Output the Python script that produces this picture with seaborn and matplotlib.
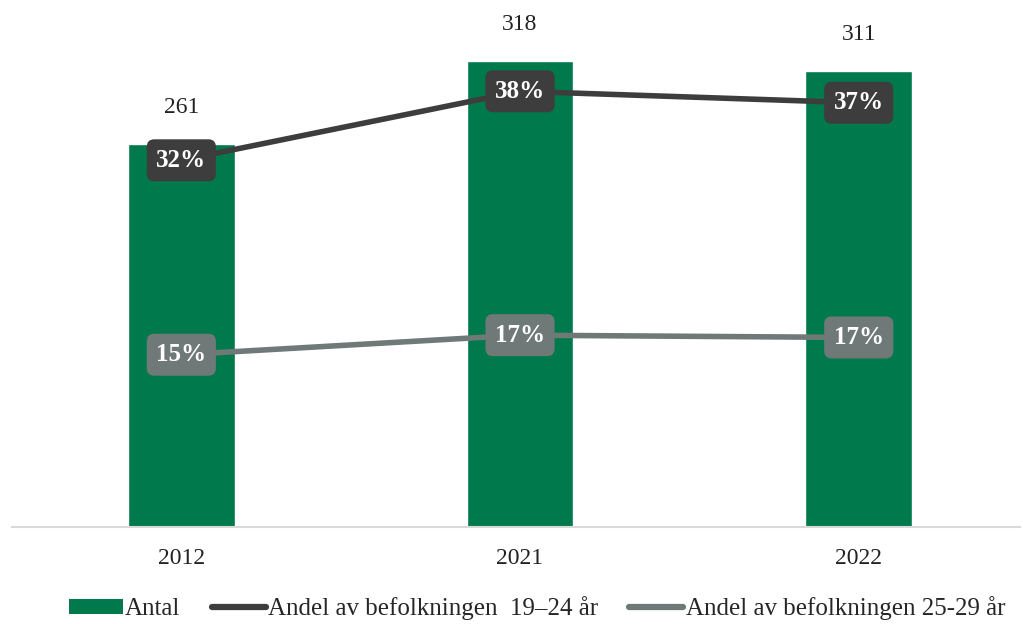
import matplotlib
matplotlib.use("Agg")
import matplotlib.pyplot as plt
import seaborn as sns
import pandas as pd
from matplotlib.patches import Patch
from matplotlib.lines import Line2D

years = ["2012", "2021", "2022"]
antal = [261, 318, 311]
andel_19_24 = [0.319, 0.379, 0.369]
andel_25_29 = [0.150, 0.167, 0.165]
labels_19_24 = ["32%", "38%", "37%"]
labels_25_29 = ["15%", "17%", "17%"]

green = "#007A4D"
dark = "#3D3D3D"
gray = "#6F7977"

sns.set_theme(style="white")
plt.rcParams["font.family"] = ["Liberation Serif", "DejaVu Serif"]

fig = plt.figure(figsize=(10.23, 6.24), dpi=100)
ax = fig.add_axes([0.0117, 0.155, 0.985, 0.837])

df = pd.DataFrame({"year": years, "antal": antal})
sns.barplot(data=df, x="year", y="antal", color=green, width=0.315, ax=ax, saturation=1)
ax.set_xlim(-0.5, 2.475)
ax.set_ylim(0, 356)
for i, v in enumerate(antal):
    ax.text(i, v + 25, str(v), ha="center", va="center", fontsize=17, color="#222222")

ax2 = ax.twinx()
ax2.set_ylim(0, 0.454)
xs = list(range(len(years)))
sns.lineplot(x=xs, y=andel_19_24, ax=ax2, color=dark, lw=4)
sns.lineplot(x=xs, y=andel_25_29, ax=ax2, color=gray, lw=4)
for i in xs:
    ax2.text(i, andel_19_24[i], labels_19_24[i], ha="center", va="center", fontsize=18,
             fontweight="bold", color="white",
             bbox=dict(boxstyle="round,pad=0.38,rounding_size=0.3", fc=dark, ec="none"))
    ax2.text(i, andel_25_29[i], labels_25_29[i], ha="center", va="center", fontsize=18,
             fontweight="bold", color="white",
             bbox=dict(boxstyle="round,pad=0.38,rounding_size=0.3", fc=gray, ec="none"))

for a in (ax, ax2):
    a.set_yticks([])
    a.set_xlabel("")
    a.set_ylabel("")
    for s in ("top", "left", "right"):
        a.spines[s].set_visible(False)
ax.spines["bottom"].set_color("#D9D9D9")
ax.spines["bottom"].set_linewidth(1.5)
ax2.spines["bottom"].set_visible(False)
ax.tick_params(axis="x", labelsize=17, length=0, pad=15, colors="#222222")

handles = [Patch(facecolor=green, edgecolor="none"),
           Line2D([0], [0], color=dark, lw=4.5),
           Line2D([0], [0], color=gray, lw=4.5)]
names = ["Antal", "Andel av befolkningen  19\u201324 år", "Andel av befolkningen 25-29 år"]
fig.legend(handles, names, loc="center", bbox_to_anchor=(0.525, 0.025), ncol=3, frameon=False,
           fontsize=18, handlelength=2.15, handletextpad=0.1, columnspacing=1.25,
           handleheight=0.55)

fig.savefig("out.png", dpi=100)
